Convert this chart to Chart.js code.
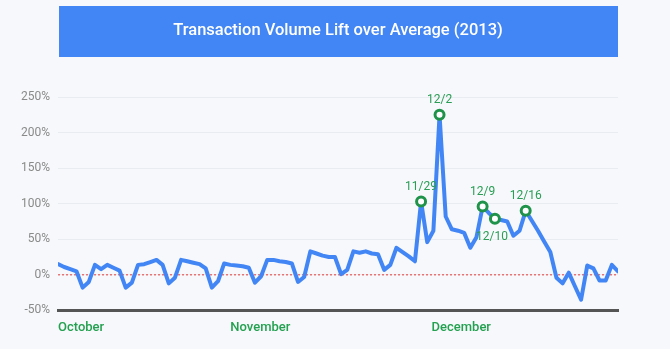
<!DOCTYPE html>
<html>
<head>
<meta charset="utf-8">
<script src="https://cdn.jsdelivr.net/npm/chart.js@4.4.0/dist/chart.umd.min.js"></script>
<style>
  body { margin: 0; background: #f6f8fb; }
  #wrap { width: 670px; height: 349px; position: relative; }
</style>
</head>
<body>
<div id="wrap"><canvas id="liftChart"></canvas></div>
<script>
// Dados do gráfico (lift diário, 1/out a 31/dez 2013, em %)
const titleText = 'Transaction Volume Lift over Average (2013)';

const lift = [
  15, 11, 8, 5, -18, -10, 14, 8, 14, 10, 6, -18, -11, 14, 15, 18, 21, 14, -12, -4,
  21, 19, 17, 15, 9, -18, -9, 16, 14, 13, 12, 10, -11, -2, 21, 21, 19, 18, 16, -10,
  -3, 33, 30, 27, 25, 25, 1, 7, 33, 31, 33, 30, 29, 7, 14, 38, 32, 26, 19, 103,
  46, 62, 225, 82, 64, 62, 59, 38, 53, 96, 87, 79, 77, 75, 55, 62, 90, 76, 62, 47,
  32, -4, -12, 3, -16, -35, 13, 9, -8, -8, 14, 5
];

// pontos destacados
const highlightIdx = [59, 62, 69, 71, 76];
const highlightText = ['11/29', '12/2', '12/9', '12/10', '12/16'];

// rótulos dos meses no eixo x
const monthNames = ['October', 'November', 'December'];
const monthTickDay = [0, 28, 60.7];

// eixo y
const yTicks = [-50, 0, 50, 100, 150, 200, 250];

const blue = '#4285f4';
const green = '#1e9349';

// faixa azul do título
const bannerPlugin = {
  id: 'banner',
  beforeDraw(chart) {
    const c = chart.ctx;
    const a = chart.chartArea;
    c.save();
    c.fillStyle = blue;
    c.fillRect(a.left + 1, 6, a.right - a.left - 1, 51);
    c.fillStyle = '#ffffff';
    c.font = '500 16.5px Roboto';
    c.textAlign = 'center';
    c.textBaseline = 'middle';
    c.fillText(titleText, (a.left + a.right) / 2, 31);
    c.restore();
  }
};

// rótulos das datas destacadas
const pointLabels = {
  id: 'pointLabels',
  afterDatasetsDraw(chart) {
    const c = chart.ctx;
    const meta = chart.getDatasetMeta(0);
    c.save();
    c.fillStyle = '#2a9d55';
    c.font = '12px Roboto';
    c.textAlign = 'center';
    c.textBaseline = 'middle';
    highlightIdx.forEach(function(idx, i) {
      const el = meta.data[idx];
      const below = i > 0 && idx - highlightIdx[i - 1] < 3;
      c.fillText(highlightText[i], el.x - (below ? 3 : 0), el.y + (below ? 18 : -15));
    });
    c.restore();
  }
};

const ctx = document.getElementById('liftChart').getContext('2d');

new Chart(ctx, {
  type: 'line',
  data: {
    datasets: [{
      data: lift.map((v, i) => ({ x: i, y: v })),
      borderColor: blue,
      borderWidth: 4,
      borderJoinStyle: 'round',
      borderCapStyle: 'round',
      tension: 0,
      pointRadius: c => highlightIdx.includes(c.dataIndex) ? 4.5 : 0,
      pointBorderColor: green,
      pointBackgroundColor: '#ffffff',
      pointBorderWidth: 3,
      pointHoverRadius: 0
    }, {
      data: [{ x: 0, y: 0 }, { x: lift.length - 1, y: 0 }],
      borderColor: '#e53935',
      borderWidth: 1,
      borderDash: [2, 2],
      pointRadius: 0
    }]
  },
  options: {
    responsive: true,
    maintainAspectRatio: false,
    animation: false,
    layout: { padding: { top: 97, left: 13, right: 52, bottom: 3 } },
    plugins: {
      legend: { display: false },
      title: { display: false },
      tooltip: { enabled: false }
    },
    scales: {
      x: {
        type: 'linear',
        min: 0,
        max: lift.length - 1,
        afterBuildTicks: axis => { axis.ticks = monthTickDay.map(v => ({ value: v })); },
        ticks: {
          align: 'start',
          maxRotation: 0,
          minRotation: 0,
          padding: 10,
          color: '#24a150',
          font: { family: 'Roboto', size: 13, weight: '500' },
          callback: v => monthNames[monthTickDay.indexOf(v)]
        },
        grid: { display: false, drawTicks: false },
        border: { display: true, color: '#555555', width: 3 }
      },
      y: {
        min: -50,
        max: 250,
        afterBuildTicks: axis => { axis.ticks = yTicks.map(v => ({ value: v })); },
        ticks: {
          padding: 8,
          color: '#8a8a8a',
          font: { family: 'Roboto', size: 12 },
          callback: v => v + '%'
        },
        grid: {
          drawTicks: false,
          color: c => c.tick.value === -50 ? 'rgba(0,0,0,0)' : '#e9ecf0',
          lineWidth: 1
        },
        border: { display: false }
      }
    }
  },
  plugins: [bannerPlugin, pointLabels]
});
</script>
</body>
</html>
